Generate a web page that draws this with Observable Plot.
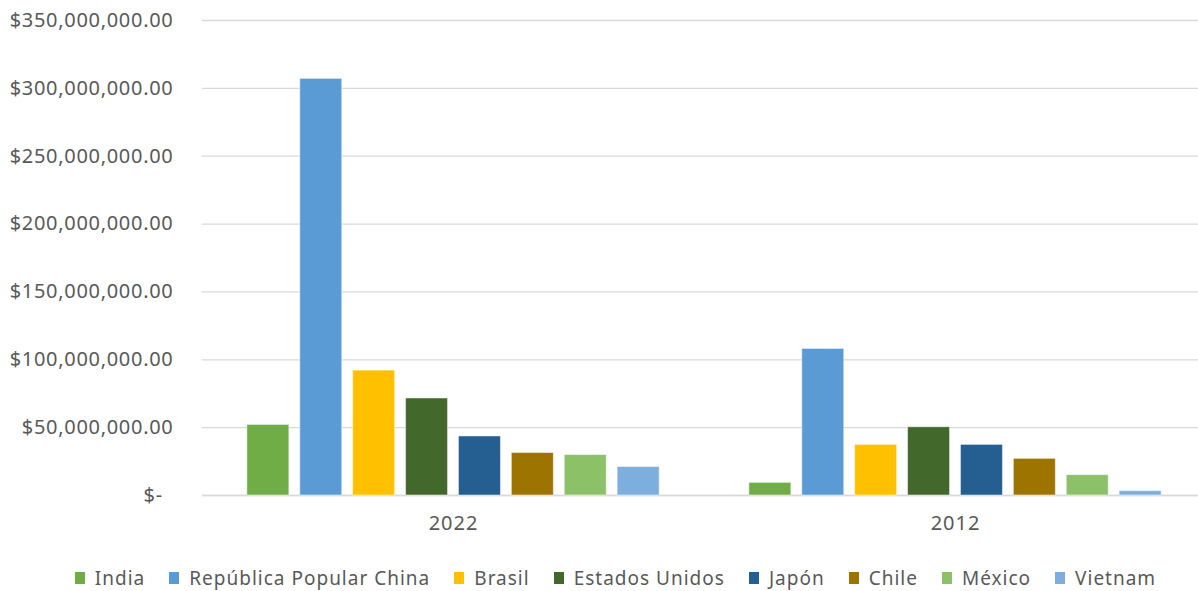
<!DOCTYPE html>
<html><head><meta charset="utf-8">
<script src="https://cdn.jsdelivr.net/npm/d3@7"></script>
<script src="https://cdn.jsdelivr.net/npm/@observablehq/plot@0.6"></script>
<style>
body{margin:0;background:#fff;overflow:hidden;width:1198px;height:591px;font-family:"Noto Sans",sans-serif;position:relative;}
#chart{width:1206px;overflow:visible;}
#chart svg{display:block;max-width:none !important;}
#legend{position:absolute;top:567px;left:0;width:1231px;display:flex;justify-content:center;gap:24px;font-size:19px;letter-spacing:1px;color:#595959;line-height:22px;}
#legend .it{display:flex;align-items:center;white-space:nowrap;}
#legend .sw{width:10px;height:12px;margin-right:10px;}
</style></head>
<body>
<div id="chart"></div>
<div id="legend"></div>
<script>
const years = ["2022", "2012"];
const countries = ["India", "República Popular China", "Brasil", "Estados Unidos", "Japón", "Chile", "México", "Vietnam"];
const colors = ["#70ad47", "#5b9bd5", "#ffc000", "#43682b", "#255e91", "#9e7400", "#8cc168", "#7cafdd"];
const values2022 = [52e6, 307e6, 92e6, 71.5e6, 43.5e6, 31.3e6, 29.8e6, 21e6];
const values2012 = [9.3e6, 108e6, 37.3e6, 50.3e6, 37.3e6, 27e6, 15e6, 3.2e6];
const yTicks = [0, 50e6, 100e6, 150e6, 200e6, 250e6, 300e6, 350e6];

const data = [];
countries.forEach((c, i) => {
  data.push({year: years[0], country: c, value: values2022[i]});
  data.push({year: years[1], country: c, value: values2012[i]});
});

const fmt = v => v === 0 ? "$-\u2002" : "$" + d3.format(",.2f")(v);

const chart = Plot.plot({
  width: 1206,
  height: 545,
  marginLeft: 202,
  marginRight: 0,
  marginTop: 20,
  marginBottom: 50,
  style: {fontFamily: "Noto Sans, sans-serif", color: "#595959", background: "white", maxWidth: "none"},
  fx: {domain: years, padding: 0, round: false, label: null},
  x: {domain: countries, paddingInner: 0.206, paddingOuter: 0.848, round: false, axis: null},
  y: {domain: [0, 350e6], label: null},
  color: {domain: countries, range: colors},
  marks: [
    Plot.gridY(yTicks, {stroke: "#d9d9d9", strokeOpacity: 1, strokeWidth: 1.3}),
    Plot.ruleY([0], {stroke: "#d9d9d9", strokeWidth: 1.3}),
    Plot.barY(data, {fx: "year", x: "country", y: "value", fill: "country", stroke: "white", strokeOpacity: 0.5, strokeWidth: 1}),
    Plot.axisY(yTicks, {tickSize: 0, tickPadding: 29, tickFormat: fmt, fontSize: 20, fill: "#595959", label: null, className: "yax"}),
    Plot.axisFx({anchor: "bottom", tickSize: 0, tickPadding: 20, fontSize: 20, fill: "#595959", label: null, className: "fxax"})
  ]
});
document.getElementById("chart").appendChild(chart);
d3.select(chart).selectAll(".yax text").attr("letter-spacing", "0.7px");
d3.select(chart).selectAll(".fxax text").attr("letter-spacing", "1px");

const lg = document.getElementById("legend");
countries.forEach((c, i) => {
  const it = document.createElement("div");
  it.className = "it";
  const sw = document.createElement("span");
  sw.className = "sw";
  sw.style.background = colors[i];
  const t = document.createElement("span");
  t.textContent = c;
  it.appendChild(sw); it.appendChild(t);
  lg.appendChild(it);
});
</script>
</body></html>
